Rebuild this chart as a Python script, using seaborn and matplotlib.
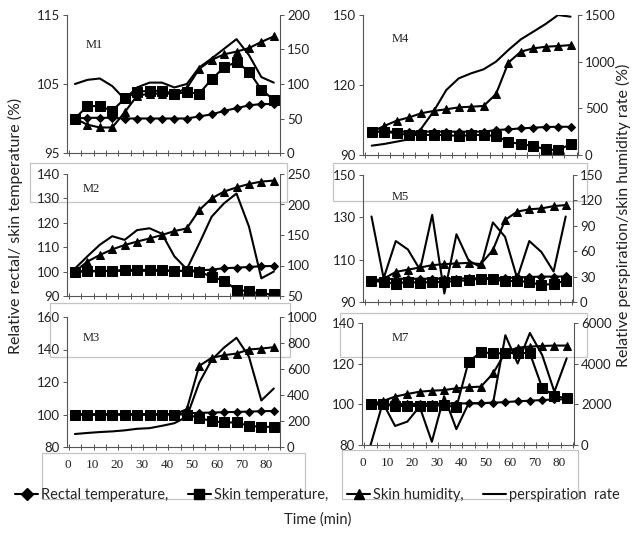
import matplotlib
matplotlib.use("Agg")
import matplotlib.pyplot as plt
import seaborn as sns
from matplotlib.lines import Line2D
from matplotlib.patches import Rectangle
from matplotlib.ticker import FixedLocator

sns.set_theme(style="ticks")
plt.rcParams["font.family"] = ["Lato", "DejaVu Sans"]

W, H = 635, 536

# sampling times (min)
time_min = [3, 8, 13, 18, 23, 28, 33, 38, 43, 48, 53, 58, 63, 68, 73, 78, 83]

# M1
m1_rectal = [100, 100.1, 100.1, 100.1, 100, 100, 100, 100, 100, 100, 100.3, 100.6, 101.1, 101.5, 101.9, 102.1, 102.1]
m1_skin = [100, 101.8, 101.8, 101.1, 102.9, 103.9, 104.0, 104.0, 103.6, 103.8, 103.6, 105.7, 107.4, 108.2, 106.8, 104.2, 102.7]
m1_humidity = [100, 99.1, 98.7, 98.7, 100.9, 103.3, 103.6, 103.6, 103.6, 104.4, 107.2, 108.5, 109.3, 109.7, 110.2, 111.1, 111.9]
m1_perspiration = [100, 106, 108, 97, 78, 95, 102, 102, 95, 100, 124, 137, 151, 165, 142, 110, 102]

# M4
m4_rectal = [100, 100, 100, 100, 100, 100, 100, 100, 100, 100, 100.7, 101, 101.4, 101.7, 102, 102.1, 102.1]
m4_skin = [100, 100, 99.3, 98.6, 98.6, 98.6, 98.6, 98.1, 98.6, 98.6, 98.1, 95.7, 94.6, 93.9, 92.4, 92.1, 94.6]
m4_humidity = [100, 102.4, 104.7, 106.1, 107.9, 108.9, 109.6, 110.4, 110.7, 111, 116.1, 129.6, 134.3, 135.7, 136.4, 136.7, 137.1]
m4_perspiration = [100, 118, 143, 168, 286, 471, 696, 821, 875, 918, 1000, 1125, 1239, 1321, 1404, 1500, 1482]

# M2
m2_rectal = [100, 100, 100.2, 100.3, 100.3, 100.3, 100.3, 100.3, 100.3, 100.3, 100.5, 100.8, 101.4, 101.6, 101.9, 102.2, 102.3]
m2_skin = [100, 100.3, 100.3, 100.3, 100.7, 100.7, 100.7, 100.7, 100.3, 100.2, 100, 97.9, 96.3, 92.5, 92, 90.8, 90.8]
m2_humidity = [100, 104.1, 106.8, 109.1, 110.9, 112.3, 113.6, 115, 116.6, 117.7, 125.2, 130, 132.8, 134.5, 135.9, 136.9, 137.3]
m2_perspiration = [95, 115, 134, 148, 142, 158, 161, 152, 115, 94, 136, 180, 202, 218, 164, 79, 90]

# M5
m5_rectal = [100, 100.7, 101, 101, 101, 101, 101, 101, 101.2, 101.2, 101.3, 101.3, 101.6, 101.8, 102, 102, 102.1]
m5_skin = [100, 99.5, 98.7, 99.5, 99.1, 99.5, 99.5, 99.9, 100.3, 101.1, 100.7, 99.9, 99.9, 99.5, 97.9, 98.7, 100]
m5_humidity = [100, 101, 104.2, 105.3, 106.3, 107.4, 107.9, 108.2, 108.5, 107.9, 114.5, 128.7, 132.7, 133.8, 134.2, 135.3, 135.8]
m5_perspiration = [101, 28, 72, 62, 38, 103, 10, 80, 49, 41, 94, 77, 28, 72, 59, 36, 101]

# M3
m3_rectal = [100, 100, 100, 100, 100, 100, 100, 100, 100.2, 100.8, 101, 101.2, 101.4, 101.6, 101.8, 102, 102.2]
m3_skin = [100, 100, 100, 100, 100, 100, 100, 100, 100, 100, 97.9, 95.9, 95.1, 95.1, 93, 92.4, 92.4]
m3_humidity = [100, 100, 100, 100, 100, 100, 100, 100, 100.2, 103.2, 129.9, 134.9, 136.5, 137.5, 140, 140.6, 141.4]
m3_perspiration = [100, 108, 115, 120, 128, 140, 145, 163, 183, 233, 495, 670, 765, 840, 695, 358, 450]

# M7
m7_rectal = [100, 100, 100, 100.2, 100.2, 100.3, 100.4, 100.4, 100.5, 100.6, 100.8, 101.1, 101.5, 101.8, 102.1, 102.4, 102.5]
m7_skin = [100, 100, 99.2, 99.2, 99.2, 99.2, 99.7, 98.5, 121, 125.6, 125.1, 125.1, 125.4, 125.1, 108.2, 104.1, 103]
m7_humidity = [100, 101.6, 103.8, 105.1, 106.2, 106.7, 107, 107.9, 108.4, 108.7, 115.2, 125.6, 127.9, 128.4, 128.7, 128.9, 128.9]
m7_perspiration = [0, 2080, 935, 1150, 1890, 160, 2400, 780, 2050, 2050, 2080, 5400, 4010, 5510, 4430, 2620, 4260]

x_ticks = [0, 10, 20, 30, 40, 50, 60, 70, 80]
legend_labels = ["Rectal temperature,", "Skin temperature,", "Skin humidity,", "perspiration  rate"]

panels = [
    ("M1", m1_rectal, m1_skin, m1_humidity, m1_perspiration),
    ("M4", m4_rectal, m4_skin, m4_humidity, m4_perspiration),
    ("M2", m2_rectal, m2_skin, m2_humidity, m2_perspiration),
    ("M5", m5_rectal, m5_skin, m5_humidity, m5_perspiration),
    ("M3", m3_rectal, m3_skin, m3_humidity, m3_perspiration),
    ("M7", m7_rectal, m7_skin, m7_humidity, m7_perspiration),
]

# pixel boxes (left, top, right, bottom) and axis settings
layout = {
    "M1": dict(box=(67, 15, 280, 153), xlim=(-0.2, 85.5), ylim=(95, 115), yt=[95, 105, 115],
               ylim2=(0, 200), yt2=[0, 50, 100, 150, 200], tag=(0.09, 0.78), bottom=False),
    "M4": dict(box=(363, 15, 578, 155), xlim=(-0.5, 86), ylim=(90, 150), yt=[90, 120, 150],
               ylim2=(0, 1500), yt2=[0, 500, 1000, 1500], tag=(0.135, 0.83), bottom=False),
    "M2": dict(box=(67, 174, 280, 296), xlim=(-0.2, 85.5), ylim=(90, 140), yt=[90, 100, 110, 120, 130, 140],
               ylim2=(50, 250), yt2=[50, 100, 150, 200, 250], tag=(0.075, 0.877), bottom=False),
    "M5": dict(box=(363, 175, 573, 302), xlim=(-0.5, 86), ylim=(90, 150), yt=[90, 110, 130, 150],
               ylim2=(0, 150), yt2=[0, 30, 60, 90, 120, 150], tag=(0.138, 0.83), bottom=False),
    "M3": dict(box=(67, 317, 280, 447), xlim=(-0.2, 85.5), ylim=(80, 160), yt=[80, 100, 120, 140, 160],
               ylim2=(0, 1000), yt2=[0, 200, 400, 600, 800, 1000], tag=(0.075, 0.84), bottom=True),
    "M7": dict(box=(362, 323, 574, 445), xlim=(-0.5, 86), ylim=(80, 140), yt=[80, 100, 120, 140],
               ylim2=(0, 6000), yt2=[0, 2000, 4000, 6000], tag=(0.14, 0.877), bottom=True),
}

SPINE = "#555555"
SERIF = ["Liberation Serif", "DejaVu Serif"]
line_kw = dict(color="black", lw=1.5, markeredgecolor="black", markerfacecolor="black")

fig = plt.figure(figsize=(W / 100, H / 100), dpi=100)
fig.patch.set_facecolor("white")

# pale frames left over from the pasted sub-images
for x0, y0, x1, y1 in [(30, 163, 287, 202), (50, 303, 290, 357), (42, 453, 305, 499),
                       (333, 163, 587, 201), (340, 313, 587, 357), (342, 450, 578, 499)]:
    fig.add_artist(Rectangle((x0 / W, 1 - y1 / H), (x1 - x0) / W, (y1 - y0) / H,
                             transform=fig.transFigure, fill=False, ec="#c4c4c4", lw=0.9, zorder=-1))

for name, rectal, skin, humidity, persp in panels:
    cfg = layout[name]
    l, t, r, b = cfg["box"]
    ax = fig.add_axes([l / W, 1 - b / H, (r - l) / W, (b - t) / H])
    ax.set_facecolor("none")
    ax2 = ax.twinx()

    sns.lineplot(x=time_min, y=rectal, ax=ax, marker="D", markersize=4.5, **line_kw)
    sns.lineplot(x=time_min, y=skin, ax=ax, marker="s", markersize=6.5, **line_kw)
    sns.lineplot(x=time_min, y=humidity, ax=ax, marker="^", markersize=6, **line_kw)
    sns.lineplot(x=time_min, y=persp, ax=ax2, color="black", lw=1.5)

    ax.set_xlim(*cfg["xlim"])
    ax.set_ylim(*cfg["ylim"])
    ax2.set_ylim(*cfg["ylim2"])
    ax.set_yticks(cfg["yt"])
    ax2.set_yticks(cfg["yt2"])
    ax.set_xlabel("")
    ax.set_ylabel("")
    ax2.set_ylabel("")

    ax.xaxis.set_major_locator(FixedLocator(x_ticks))
    ax.xaxis.set_minor_locator(FixedLocator([0.5 + 5 * k for k in range(18)]))
    ax.tick_params(axis="x", which="major", length=0, labelbottom=cfg["bottom"],
                   labelsize=9.5, pad=9, labelcolor="#222222")
    ax.tick_params(axis="x", which="minor", direction="inout", length=5, width=0.7, color=SPINE)
    for lbl in ax.get_xticklabels():
        lbl.set_fontfamily(SERIF)
    ax.tick_params(axis="y", direction="out", length=3, width=0.7, color=SPINE,
                   labelsize=9.5, pad=2, labelcolor="#222222")
    ax2.tick_params(axis="y", direction="out", length=3, width=0.7, color=SPINE,
                    labelsize=9.5, pad=2, labelcolor="#222222")

    for a in (ax, ax2):
        a.spines["top"].set_visible(False)
        for s in ("left", "right", "bottom"):
            a.spines[s].set_color(SPINE)
            a.spines[s].set_linewidth(0.8)
    ax.spines["right"].set_visible(False)
    ax2.spines["left"].set_visible(False)
    ax2.spines["bottom"].set_visible(False)

    ax.text(cfg["tag"][0], cfg["tag"][1], name, transform=ax.transAxes, ha="left", va="center",
            fontsize=9, family=SERIF, color="#222222")

fig.text(0.024, 1 - 226 / H, "Relative rectal/ skin temperature (%)", rotation=90,
         ha="center", va="center", fontsize=11.5, color="#222222")
fig.text(0.982, 1 - 215 / H, "Relative perspiration/skin humidity rate (%)", rotation=90,
         ha="center", va="center", fontsize=11.5, color="#222222")
fig.text(0.5, 1 - 520 / H, "Time (min)", ha="center", va="center", fontsize=10.5, color="#222222")

handles = [
    Line2D([], [], marker="D", markersize=6, **line_kw),
    Line2D([], [], marker="s", markersize=7, **line_kw),
    Line2D([], [], marker="^", markersize=7, **line_kw),
    Line2D([], [], color="black", lw=1.5),
]
fig.legend(handles, legend_labels, loc="center", bbox_to_anchor=(0.5, 1 - 495 / H), ncol=4,
           frameon=False, fontsize=10.5, handlelength=1.6, handletextpad=0.2, columnspacing=1.3)

fig.savefig("out.png", dpi=100)
